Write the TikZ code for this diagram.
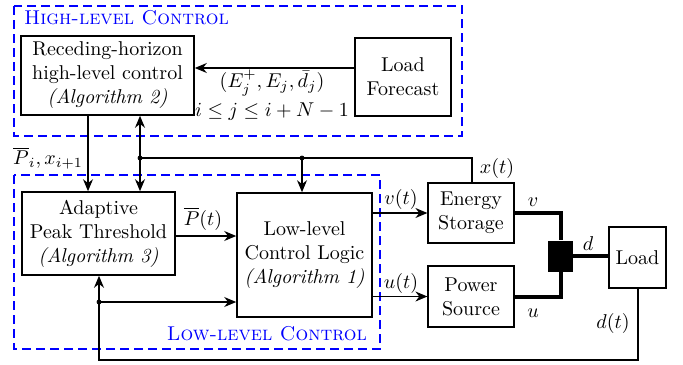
\documentclass[tikz,border=0pt]{standalone}
\usepackage{xcolor}
\usetikzlibrary{arrows.meta}
\definecolor{ctrlblue}{RGB}{0,0,255}

\begin{document}
\begin{tikzpicture}[x=0.5pt,y=-0.5pt,
	block/.style={draw, thick, align=center, inner sep=0pt},
	plant/.style={draw, semithick, align=center, inner sep=0pt},
	lbl/.style={inner sep=0.5pt},
	arr/.style={semithick, -{Stealth[length=6pt,width=5pt]}},
	power/.style={line width=2pt},
	region/.style={draw=ctrlblue, thick, dash pattern=on 4.5pt off 2.5pt}]
	\useasboundingbox (0,0) rectangle (683,364);

	% control regions
	\draw[region] (14,6) rectangle (462,136);
	\node[text=ctrlblue, anchor=west] (hltitle) at (17,18) {\textsc{High-level Control}};
	\draw[region] (14,175) rectangle (380,349);
	\node[text=ctrlblue, anchor=east] (lltitle) at (374,334) {\textsc{Low-level Control}};

	% blocks
	\node[block, minimum width=86.5pt, minimum height=39.5pt] (rh) at (107.5,75.5) {Receding-horizon\\high-level control\\\textit{(Algorithm 2)}};
	\node[block, minimum width=48pt, minimum height=39pt] (lf) at (403,77) {Load\\Forecast};
	\node[block, minimum width=76.5pt, minimum height=41.5pt] (apt) at (98.5,233.5) {Adaptive\\Peak Threshold\\\textit{(Algorithm 3)}};
	\node[block, minimum width=67.5pt, minimum height=62pt] (llc) at (304.5,255) {Low-level\\Control Logic\\\textit{(Algorithm 1)}};
	\node[plant, minimum width=43pt, minimum height=30pt] (es) at (471,213) {Energy\\Storage};
	\node[plant, minimum width=43pt, minimum height=30.5pt] (ps) at (471,296.5) {Power\\Source};
	\node[plant, minimum width=28.5pt, minimum height=30.5pt] (load) at (637.5,257.5) {Load};
	\node[fill, minimum width=12.5pt, minimum height=15.5pt, inner sep=0pt] (jn) at (560.5,256) {};

	% helper points
	\coordinate (fc) at (0,68);
	\coordinate (pi) at (88,0);
	\coordinate (j1) at (140,158);
	\coordinate (j2) at (302,158);
	\coordinate (xt) at (472,158);
	\coordinate (pt) at (0,236);
	\coordinate (j3) at (99,302);
	\coordinate (dt) at (638,360);

	% high level
	\draw[arr] (lf.west |- fc) -- (rh.east |- fc);
	\node[lbl] (fcst) at (272,83) {$(E_j^+,E_j,\bar{d}_j)$};
	\node[lbl] (hor) at (272,112) {$i\leq j\leq i+N-1$};
	\draw[arr] (rh.south -| pi) -- (apt.north -| pi);
	\node[lbl] (pilbl) at (48,158) {$\overline{P}_i,x_{i+1}$};

	% state feedback
	\draw[thick, -{Stealth[length=6pt,width=5pt]}] (j1) -- (rh.south -| j1);
	\draw[thick, -{Stealth[length=6pt,width=5pt]}] (j1) -- (apt.north -| j1);
	\draw[semithick] (j1) -- (xt) -- (es.north -| xt);
	\draw[arr] (j2) -- (llc.north -| j2);
	\filldraw (j1) circle (1pt);
	\filldraw (j2) circle (1pt);
	\node[lbl] (xlbl) at (497,168) {$x(t)$};

	% low level
	\draw[arr] (apt.east |- pt) -- (llc.west |- pt);
	\node[lbl] (plbl) at (203,219) {$\overline{P}(t)$};
	\draw[arr] (llc.east |- es.west) -- (es.west);
	\node[lbl] (vlbl) at (401,199) {$v(t)$};
	\draw[arr] (llc.east |- ps.west) -- (ps.west);
	\node[lbl] (ulbl) at (401,283) {$u(t)$};

	% power flow
	\draw[power] (es.east) -| (jn.north);
	\draw[power] (ps.east) -| (jn.south);
	\draw[power] (jn.east) -- (load.west |- jn.east);
	\node[lbl] (v) at (533,202) {$v$};
	\node[lbl] (u) at (533,313) {$u$};
	\node[lbl] (d) at (588,244) {$d$};

	% load feedback
	\draw[arr] (load.south -| dt) -- (dt) -| (apt.south -| j3);
	\draw[arr] (j3) -- (llc.west |- j3);
	\filldraw (j3) circle (1pt);
	\node[lbl] (dlbl) at (613,323) {$d(t)$};
\end{tikzpicture}
\end{document}
